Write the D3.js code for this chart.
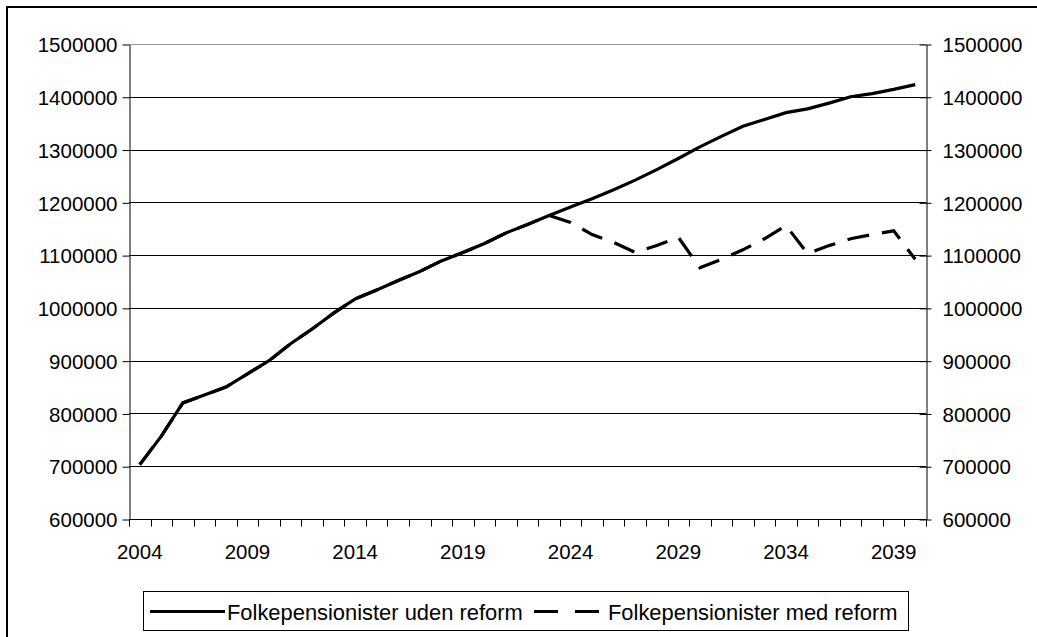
<!DOCTYPE html>
<html>
<head>
<meta charset="utf-8">
<title>Folkepensionister</title>
<script src="https://cdn.jsdelivr.net/npm/d3@7"></script>
<style>
  body { margin: 0; background: #fff; }
  text { font-family: "Liberation Sans", Arial, sans-serif; fill: #000; }
</style>
</head>
<body>
<script>
// data
var years = d3.range(2004, 2041);
var udenReform = [703000, 757000, 820000, 835000, 850000, 875000, 900000, 932000, 960000, 990000,
  1017000, 1034000, 1052000, 1069000, 1089000, 1105000, 1122000, 1142000, 1158000, 1175000,
  1191000, 1207000, 1224000, 1242000, 1262000, 1283000, 1305000, 1325000, 1344000, 1357000,
  1370000, 1377000, 1388000, 1400000, 1406000, 1414000, 1423000];
var medReform = [703000, 757000, 820000, 835000, 850000, 875000, 900000, 932000, 960000, 990000,
  1017000, 1034000, 1052000, 1069000, 1089000, 1105000, 1122000, 1142000, 1158000, 1175000,
  1162000, 1139000, 1124000, 1105000, 1118000, 1134000, 1076000, 1092000, 1110000, 1131000,
  1156000, 1103000, 1118000, 1131000, 1139000, 1146000, 1092000];
var yTicks = [600000, 700000, 800000, 900000, 1000000, 1100000, 1200000, 1300000, 1400000, 1500000];
var xLabels = [2004, 2009, 2014, 2019, 2024, 2029, 2034, 2039];
var seriesNames = ["Folkepensionister uden reform", "Folkepensionister med reform"];

var width = 1037, height = 637;
var plot = {left: 129, right: 926, top: 44, bottom: 519};

var svg = d3.select("body").append("svg")
    .attr("width", width)
    .attr("height", height);

// outer frame (goes off the right and bottom edges)
svg.append("rect")
    .attr("x", 7).attr("y", 7)
    .attr("width", 1040).attr("height", 640)
    .attr("fill", "none").attr("stroke", "#000").attr("stroke-width", 2);

var x = d3.scaleBand()
    .domain(years)
    .range([plot.left, plot.right]);

var y = d3.scaleLinear()
    .domain([600000, 1500000])
    .range([plot.bottom, plot.top]);

// gridlines
svg.append("g")
  .selectAll("line")
  .data(yTicks)
  .enter().append("line")
    .attr("x1", plot.left).attr("x2", plot.right)
    .attr("y1", function(d) { return Math.round(y(d)) + 0.5; })
    .attr("y2", function(d) { return Math.round(y(d)) + 0.5; })
    .attr("stroke", function(d) { return d == 1500000 ? "#999" : "#000"; })
    .attr("stroke-width", 1);

// left axis
svg.append("g")
    .attr("transform", "translate(" + (plot.left + 0.5) + ",0.5)")
    .call(d3.axisLeft(y).tickValues(yTicks).tickFormat(d3.format("d")).tickSize(7).tickPadding(5).tickSizeOuter(0));

// right axis
var rightAxis = svg.append("g")
    .attr("transform", "translate(" + (plot.right + 0.5) + ",0.5)")
    .call(d3.axisRight(y).tickValues(yTicks).tickFormat(d3.format("d")).tickSize(5).tickPadding(11).tickSizeOuter(0));
rightAxis.selectAll(".tick line").attr("x1", -7);

// bottom axis - ticks between categories
var bottom = svg.append("g")
    .attr("transform", "translate(0," + (plot.bottom + 0.5) + ")");
bottom.append("line")
    .attr("x1", plot.left).attr("x2", plot.right)
    .attr("stroke", "#000");
bottom.selectAll(".tk")
  .data(years.concat([2041]))
  .enter().append("line")
    .attr("class", "tk")
    .attr("x1", function(d, i) { return Math.round(plot.left + i * x.bandwidth()) + 0.5; })
    .attr("x2", function(d, i) { return Math.round(plot.left + i * x.bandwidth()) + 0.5; })
    .attr("y1", 0).attr("y2", 7)
    .attr("stroke", "#000");
bottom.selectAll(".lbl")
  .data(xLabels)
  .enter().append("text")
    .attr("class", "lbl")
    .attr("x", function(d) { return x(d) + x.bandwidth() / 2; })
    .attr("y", 39)
    .attr("text-anchor", "middle")
    .style("font-size", "20.5px")
    .text(function(d) { return d; });

svg.selectAll(".domain").attr("stroke", "#000");
svg.selectAll(".tick text").style("font-size", "20.5px").attr("dy", "0.35em");

// lines
var line = d3.line()
    .x(function(d, i) { return x(years[i]) + x.bandwidth() / 2; })
    .y(function(d) { return y(d); });

svg.append("path")
    .datum(medReform)
    .attr("d", line)
    .attr("fill", "none")
    .attr("stroke", "#000")
    .attr("stroke-width", 3.2)
    .attr("stroke-dasharray", "22,13");

svg.append("path")
    .datum(udenReform)
    .attr("d", line)
    .attr("fill", "none")
    .attr("stroke", "#000")
    .attr("stroke-width", 3.2);

// legend
var legend = svg.append("g");
legend.append("rect")
    .attr("x", 143.5).attr("y", 591.5)
    .attr("width", 765).attr("height", 39)
    .attr("fill", "#fff").attr("stroke", "#000");

legend.append("line")
    .attr("x1", 150).attr("x2", 225)
    .attr("y1", 611.5).attr("y2", 611.5)
    .attr("stroke", "#000").attr("stroke-width", 3.2);
legend.append("text")
    .attr("x", 227).attr("y", 619.5)
    .style("font-size", "21.9px")
    .text(seriesNames[0]);

legend.append("line")
    .attr("x1", 534).attr("x2", 599)
    .attr("y1", 611.5).attr("y2", 611.5)
    .attr("stroke", "#000").attr("stroke-width", 3.2)
    .attr("stroke-dasharray", "24,17");
legend.append("text")
    .attr("x", 608).attr("y", 619.5)
    .style("font-size", "21.9px")
    .text(seriesNames[1]);
</script>
</body>
</html>
